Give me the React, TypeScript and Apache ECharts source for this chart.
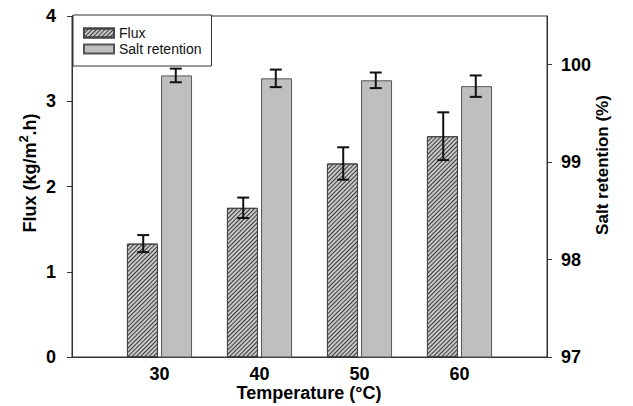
import React, { useEffect, useRef } from "react";
import * as echarts from "echarts";

const temperatures = [30, 40, 50, 60];
const fluxValues = [1.33, 1.75, 2.27, 2.59];
const fluxErrors = [0.1, 0.12, 0.19, 0.28];
const retentionValues = [99.89, 99.86, 99.84, 99.78];
const retentionErrors = [0.07, 0.09, 0.08, 0.11];
const fluxTicks = [0, 1, 2, 3, 4];
const retentionTicks = [97, 98, 99, 100];
const seriesNames = ["Flux", "Salt retention"];

const BAR_W = 31;
const BAR_GAP = "10%";
const HALF_OFFSET = (BAR_W * 2 + BAR_W * 0.1) / 4;

const FONT = "'Liberation Sans', Arial, sans-serif";

function errorItem(offset: number) {
  return (params: any, api: any) => {
    const x = api.value(0);
    const lo = api.value(1);
    const hi = api.value(2);
    const pLo = api.coord([x, lo]);
    const pHi = api.coord([x, hi]);
    const cx = pLo[0] + offset;
    const cap = 6;
    const style = { stroke: "#111", lineWidth: 2 };
    return {
      type: "group",
      children: [
        { type: "line", shape: { x1: cx, y1: pLo[1], x2: cx, y2: pHi[1] }, style },
        { type: "line", shape: { x1: cx - cap, y1: pLo[1], x2: cx + cap, y2: pLo[1] }, style },
        { type: "line", shape: { x1: cx - cap, y1: pHi[1], x2: cx + cap, y2: pHi[1] }, style },
      ],
    };
  };
}

export default function App() {
  const ref = useRef<HTMLDivElement>(null);
  useEffect(() => {
    if (!ref.current) return;
    const chart = echarts.init(ref.current, undefined, { renderer: "svg" });
    const axisLineStyle = { color: "#333", width: 1 };
    const tickLabel = { color: "#000", fontSize: 18, fontWeight: "bold" as const, fontFamily: FONT };
    chart.setOption({
      animation: false,
      backgroundColor: "#fff",
      grid: {
        left: 72,
        right: 86,
        top: 16,
        bottom: 49,
        show: true,
        borderColor: "#333",
        borderWidth: 1,
      },
      legend: {
        data: seriesNames,
        orient: "vertical",
        left: 73,
        top: 15,
        backgroundColor: "#fff",
        borderColor: "#333",
        borderWidth: 1,
        padding: [11, 10, 10, 10],
        itemWidth: 30,
        itemHeight: 9,
        itemGap: 2,
        icon: "rect",
        textStyle: { fontSize: 14, lineHeight: 14, color: "#111", fontFamily: FONT },
        z: 10,
      },
      xAxis: {
        type: "value",
        min: 21.25,
        max: 68.75,
        axisLine: { lineStyle: axisLineStyle },
        axisTick: { show: false },
        splitLine: { show: false },
        axisLabel: { ...tickLabel, margin: 8, customValues: temperatures },
      },
      yAxis: [
        {
          type: "value",
          min: 0,
          max: 4,
          axisLine: { show: true, lineStyle: axisLineStyle },
          axisTick: { show: true, length: 5, lineStyle: axisLineStyle, customValues: fluxTicks },
          splitLine: { show: false },
          axisLabel: { ...tickLabel, margin: 16, customValues: fluxTicks },
        },
        {
          type: "value",
          min: 97,
          max: 100.5,
          position: "right",
          axisLine: { show: true, lineStyle: axisLineStyle },
          axisTick: { show: true, length: 5, lineStyle: axisLineStyle, customValues: retentionTicks },
          splitLine: { show: false },
          axisLabel: { ...tickLabel, margin: 14, customValues: retentionTicks },
        },
      ],
      series: [
        {
          name: seriesNames[0],
          type: "bar",
          xAxisIndex: 0,
          yAxisIndex: 0,
          barWidth: BAR_W,
          barGap: BAR_GAP,
          data: temperatures.map((t, i) => [t, fluxValues[i]]),
          itemStyle: {
            color: "#c8c8c8",
            borderColor: "#444",
            borderWidth: 1,
            decal: {
              symbol: "rect",
              symbolSize: 1,
              color: "#3a3a3a",
              dashArrayX: [1, 0],
              dashArrayY: [1, 2],
              rotation: -Math.PI / 4,
            },
          },
        },
        {
          name: seriesNames[1],
          type: "bar",
          xAxisIndex: 0,
          yAxisIndex: 1,
          barWidth: BAR_W,
          barGap: BAR_GAP,
          data: temperatures.map((t, i) => [t, retentionValues[i]]),
          itemStyle: { color: "#bfbfbf", borderColor: "#555", borderWidth: 1 },
        },
        {
          type: "custom",
          xAxisIndex: 0,
          yAxisIndex: 0,
          z: 5,
          renderItem: errorItem(-HALF_OFFSET),
          encode: { x: 0, y: [1, 2] },
          data: temperatures.map((t, i) => [t, fluxValues[i] - fluxErrors[i], fluxValues[i] + fluxErrors[i]]),
        },
        {
          type: "custom",
          xAxisIndex: 0,
          yAxisIndex: 1,
          z: 5,
          renderItem: errorItem(HALF_OFFSET),
          encode: { x: 0, y: [1, 2] },
          data: temperatures.map((t, i) => [t, retentionValues[i] - retentionErrors[i], retentionValues[i] + retentionErrors[i]]),
        },
      ],
      graphic: [
        {
          type: "text",
          x: 28,
          y: 173,
          rotation: Math.PI / 2,
          style: {
            text: "{b|Flux (kg/m}{s|2}{b|.h)}",
            align: "center",
            verticalAlign: "middle",
            fill: "#000",
            rich: {
              b: { fontSize: 18, fontWeight: "bold", fontFamily: FONT, fill: "#000", lineHeight: 22, verticalAlign: "bottom" },
              s: { fontSize: 13, fontWeight: "bold", fontFamily: FONT, fill: "#000", lineHeight: 22, verticalAlign: "top" },
            },
          },
        },
        {
          type: "text",
          x: 602,
          y: 165,
          rotation: Math.PI / 2,
          style: {
            text: "Salt retention (%)",
            align: "center",
            verticalAlign: "middle",
            fill: "#000",
            fontSize: 17,
            fontWeight: "bold",
            fontFamily: FONT,
          },
        },
        {
          type: "text",
          x: 309,
          y: 393,
          style: {
            text: "Temperature (°C)",
            align: "center",
            verticalAlign: "middle",
            fill: "#000",
            fontSize: 18,
            fontWeight: "bold",
            fontFamily: FONT,
          },
        },
      ],
    });
    return () => chart.dispose();
  }, []);
  return <div ref={ref} style={{ position: "fixed", left: 0, top: 0, width: 633, height: 406 }} />;
}
